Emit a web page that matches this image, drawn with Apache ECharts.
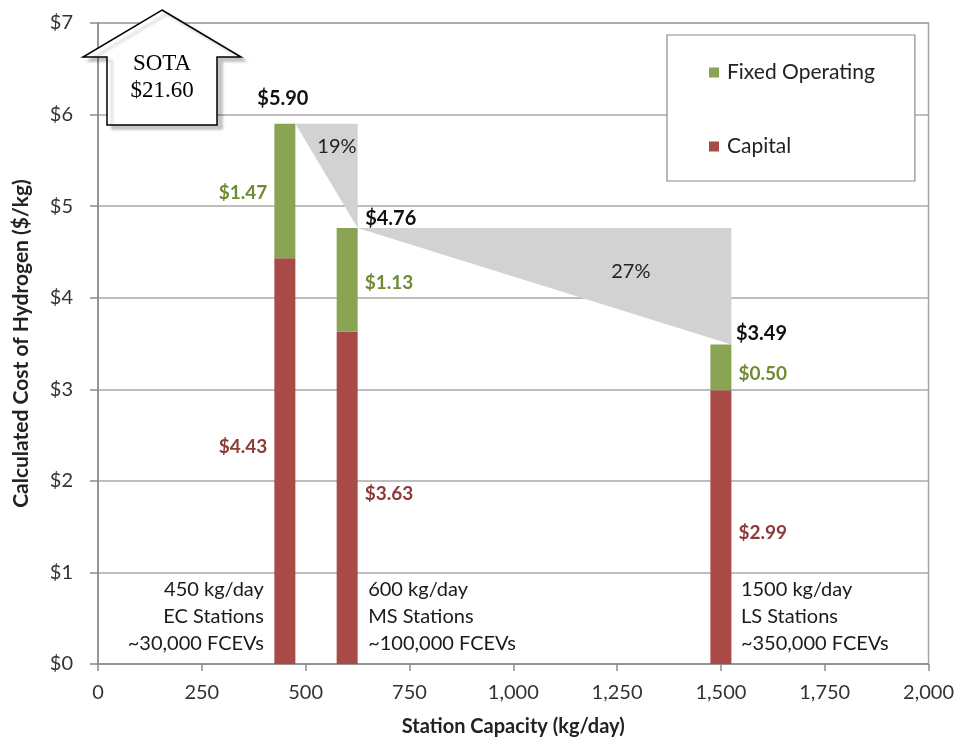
<!DOCTYPE html>
<html>
<head>
<meta charset="utf-8">
<script src="https://cdn.jsdelivr.net/npm/echarts@6/dist/echarts.min.js"></script>
<style>
  html, body { margin: 0; padding: 0; background: #fff; }
  #chart { width: 957px; height: 743px; }
</style>
</head>
<body>
<div id="chart"></div>
<script>
// Station capacities (kg/day) and cost components ($/kg)
const capacities = [450, 600, 1500];
const capital = [4.43, 3.63, 2.99];
const fixedOperating = [1.47, 1.13, 0.50];
const stationNotes = [
  ['450 kg/day', 'EC Stations', '~30,000 FCEVs'],
  ['600 kg/day', 'MS Stations', '~100,000 FCEVs'],
  ['1500 kg/day', 'LS Stations', '~350,000 FCEVs']
];
const sotaLines = ['SOTA', '$21.60'];

const totals = capital.map((c, i) => +(c + fixedOperating[i]).toFixed(2));

const FONT = 'Lato, "Open Sans", sans-serif';
const RED = '#a84b47';
const GREEN = '#89a553';
const RED_TEXT = '#8e3b38';
const GREEN_TEXT = '#6e8c34';
const BAR_W = 21;
const money = v => '$' + v.toFixed(2);

// value-label placement beside each bar segment
const capLabelPos = [
  { side: 'left', gap: 7, dy: -14 },
  { side: 'right', gap: 7, dy: -4 },
  { side: 'right', gap: 7, dy: 6 }
];
const fixLabelPos = [
  { side: 'left', gap: 7, dy: 2 },
  { side: 'right', gap: 7, dy: 3 },
  { side: 'right', gap: 7, dy: 7 }
];
const totalLabelPos = [
  { position: 'top', distance: 15, offset: [-2, 0] },
  { position: 'right', distance: 18, offset: [0, -10] },
  { position: 'right', distance: 15, offset: [0, -11] }
];
const noteLabelPos = [
  { position: 'left', distance: 21, offset: [0, -47] },
  { position: 'right', distance: 21, offset: [0, -47] },
  { position: 'right', distance: 20, offset: [0, -47] }
];
const pctOffsets = [[0, -12], [24, 5]];

// stacked segments: [capacity, base, top]
const capitalData = capacities.map((x, i) => [x, 0, capital[i]]);
const fixedData = capacities.map((x, i) => [x, capital[i], totals[i]]);

// savings wedges between consecutive station totals
const wedgeData = [];
for (let i = 0; i < capacities.length - 1; i++) {
  wedgeData.push([capacities[i], totals[i], capacities[i + 1], totals[i + 1]]);
}

function segmentRenderer(color, textColor, labelPos) {
  return (params, api) => {
    const x = api.value(0), y0 = api.value(1), y1 = api.value(2);
    const p0 = api.coord([x, y0]);
    const p1 = api.coord([x, y1]);
    const left = p0[0] - BAR_W / 2;
    const lp = labelPos[params.dataIndex];
    const tx = lp.side === 'left' ? left - lp.gap : left + BAR_W + lp.gap;
    return {
      type: 'group',
      children: [
        {
          type: 'rect',
          shape: { x: left, y: p1[1], width: BAR_W, height: p0[1] - p1[1] },
          style: { fill: color }
        },
        {
          type: 'text',
          style: {
            text: money(y1 - y0), x: tx, y: (p0[1] + p1[1]) / 2 + lp.dy,
            align: lp.side === 'left' ? 'right' : 'left', verticalAlign: 'middle',
            fontSize: 19, fontWeight: 'bold', fontFamily: FONT, fill: textColor
          }
        }
      ]
    };
  };
}

const chart = echarts.init(document.getElementById('chart'));

chart.setOption({
  animation: false,
  textStyle: { fontFamily: FONT },
  grid: {
    left: 98, right: 27, top: 23, bottom: 79,
    show: true, borderColor: '#a6a6a6', borderWidth: 1.5
  },
  legend: {
    data: ['Fixed Operating', 'Capital'],
    orient: 'vertical',
    left: 667, top: 35,
    padding: [27, 40, 24, 42],
    itemGap: 53,
    itemWidth: 10, itemHeight: 10,
    icon: 'rect',
    borderColor: '#8c8c8c', borderWidth: 1.2,
    backgroundColor: '#fff',
    textStyle: { fontSize: 21, color: '#222', fontFamily: FONT, padding: [0, 0, 0, 3] }
  },
  xAxis: {
    type: 'value', min: 0, max: 2000, interval: 250,
    name: 'Station Capacity (kg/day)',
    nameLocation: 'middle', nameGap: 53,
    nameTextStyle: { fontSize: 20, fontWeight: 'bold', color: '#222' },
    axisLine: { show: true, lineStyle: { color: '#8a8a8a', width: 1.5 } },
    axisTick: { show: true, length: 7, lineStyle: { color: '#8a8a8a', width: 1.5 } },
    axisLabel: { fontSize: 20, color: '#333', margin: 19, formatter: v => v.toLocaleString('en-US') },
    splitLine: { show: false }
  },
  yAxis: {
    type: 'value', min: 0, max: 7, interval: 1,
    name: 'Calculated Cost of Hydrogen ($/kg)',
    nameLocation: 'middle', nameGap: 66,
    nameTextStyle: { fontSize: 21, fontWeight: 'bold', color: '#222' },
    axisLine: { show: true, lineStyle: { color: '#8a8a8a', width: 1.5 } },
    axisTick: { show: true, length: 8, lineStyle: { color: '#8a8a8a', width: 1.5 } },
    axisLabel: { fontSize: 20, color: '#333', margin: 25, formatter: v => '$' + v },
    splitLine: { show: true, lineStyle: { color: '#a8a8a8', width: 1.5 } }
  },
  series: [
    {
      name: 'Savings',
      type: 'custom',
      silent: true,
      z: 1,
      data: wedgeData,
      renderItem: (params, api) => {
        const a = api.coord([api.value(0), api.value(1)]);
        const b = api.coord([api.value(2), api.value(3)]);
        const half = BAR_W / 2;
        const x0 = a[0] + half, x1 = b[0] + half;
        const pts = [[x0, a[1]], [x1, a[1]], [x1, b[1]]];
        const cx = (pts[0][0] + pts[1][0] + pts[2][0]) / 3;
        const cy = (pts[0][1] + pts[1][1] + pts[2][1]) / 3;
        const pct = Math.round((api.value(1) - api.value(3)) / api.value(1) * 100) + '%';
        const off = pctOffsets[params.dataIndex];
        return {
          type: 'group',
          children: [
            { type: 'polygon', shape: { points: pts }, style: { fill: '#d2d2d2' } },
            {
              type: 'text',
              style: {
                text: pct, x: cx + off[0], y: cy + off[1],
                align: 'center', verticalAlign: 'middle',
                fontSize: 20, fontFamily: FONT, fill: '#222'
              }
            }
          ]
        };
      }
    },
    {
      name: 'Capital',
      type: 'custom',
      z: 2,
      itemStyle: { color: RED },
      encode: { x: 0, y: [1, 2] },
      data: capitalData,
      renderItem: segmentRenderer(RED, RED_TEXT, capLabelPos)
    },
    {
      name: 'Fixed Operating',
      type: 'custom',
      z: 2,
      itemStyle: { color: GREEN },
      encode: { x: 0, y: [1, 2] },
      data: fixedData,
      renderItem: segmentRenderer(GREEN, GREEN_TEXT, fixLabelPos)
    },
    {
      name: 'Total',
      type: 'scatter',
      symbolSize: 0,
      silent: true,
      z: 3,
      itemStyle: { opacity: 1 },
      label: {
        show: true, fontSize: 20, fontWeight: 'bold', color: '#111', opacity: 1,
        formatter: p => money(p.value[1])
      },
      data: capacities.map((x, i) => ({ value: [x, totals[i]], label: totalLabelPos[i] }))
    },
    {
      name: 'Stations',
      type: 'scatter',
      symbolSize: 0,
      silent: true,
      clip: false,
      z: 3,
      itemStyle: { opacity: 1 },
      label: {
        show: true, fontSize: 20, lineHeight: 27, color: '#1a1a1a', opacity: 1,
        formatter: p => stationNotes[p.dataIndex].join('\n')
      },
      data: capacities.map((x, i) => ({ value: [x, 0], label: noteLabelPos[i] }))
    }
  ],
  graphic: [
    {
      type: 'polygon',
      z: 10,
      shape: {
        points: [[162, 10], [241, 57], [217, 57], [217, 125], [107, 125], [107, 57], [83, 57]]
      },
      style: {
        fill: '#fff', stroke: '#000', lineWidth: 1.5,
        shadowBlur: 3, shadowColor: 'rgba(0,0,0,0.22)', shadowOffsetX: 5, shadowOffsetY: 4
      }
    },
    {
      type: 'text',
      z: 11,
      style: {
        text: sotaLines.join('\n'), x: 162, y: 77,
        align: 'center', verticalAlign: 'middle',
        fontSize: 23, lineHeight: 27, fontFamily: '"Liberation Serif", "DejaVu Serif", serif', fill: '#000'
      }
    }
  ]
});
</script>
</body>
</html>
